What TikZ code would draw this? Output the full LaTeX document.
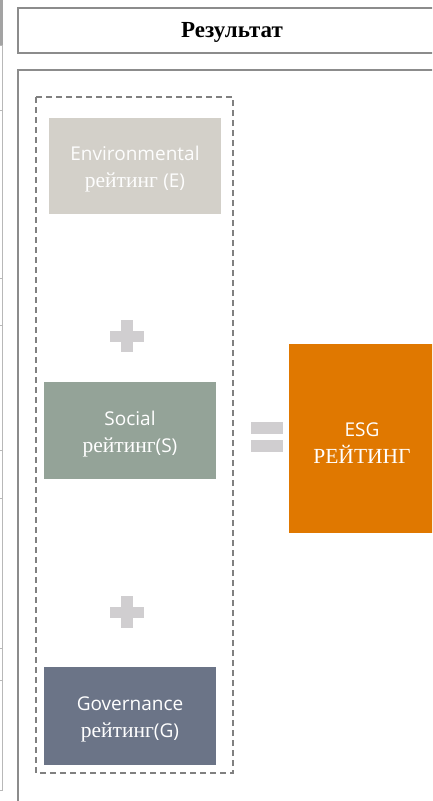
\documentclass[tikz,border=0pt]{standalone}
\usepackage{fontspec}
\setmainfont{Liberation Serif}
\newfontfamily\latsans{Open Sans}
\definecolor{frame}{HTML}{8C8C8C}
\definecolor{dashc}{HTML}{808080}
\definecolor{envc}{HTML}{D3D0C9}
\definecolor{socc}{HTML}{94A398}
\definecolor{govc}{HTML}{6B7487}
\definecolor{esgc}{HTML}{E07800}
\definecolor{signc}{HTML}{D0CED0}
\definecolor{leftc}{HTML}{B8B8B8}
\newcommand{\sanspart}[1]{{\latsans\fontsize{19}{26}\selectfont #1}}
\tikzset{
  ratebox/.style={draw=none, minimum width=172pt, minimum height=97pt, align=center, text=white, inner sep=0pt, font=\fontsize{21.5}{27}\selectfont},
  framebox/.style={draw=frame, line width=1.8pt},
}
\begin{document}
\begin{tikzpicture}[x=1pt,y=-1pt]
\useasboundingbox (0,0) rectangle (432,801);
\clip (0,0) rectangle (432,801);
\fill[white] (0,0) rectangle (432,801);
% left fragments
\fill[frame!80] (0,0) rectangle (3,45);
\draw[leftc, line width=1.2pt] (2.5,45) -- (2.5,790);
\foreach \yy in {45,110,278,325,450,498,648,680,790}
  \draw[leftc, line width=1pt] (0,\yy) -- (3,\yy);
% header
\draw[framebox] (18,8) rectangle (445,53);
\node[font=\bfseries\fontsize{23}{26}\selectfont] (hdr) at (232,32) {Результат};
% main frame
\draw[framebox] (18,70) rectangle (445,812);
% dashed group
\draw[dashc, line width=1.2pt, dash pattern=on 6pt off 4pt] (36,97) rectangle (233,773);
\node[ratebox, fill=envc, minimum width=172pt, minimum height=96pt] (env) at (135,166) {};
\node[align=center, text=white!96!envc, font=\fontsize{21.5}{27}\selectfont] (envt) at (135,169) {\sanspart{Environmental}\\рейтинг \sanspart{(E)}};
\node[ratebox, fill=socc] (soc) at (130,430.5) {};
\node[align=center, text=white, font=\fontsize{21.5}{27}\selectfont] (soct) at (130,434) {\sanspart{Social}\\рейтинг\sanspart{(S)}};
\node[ratebox, fill=govc, minimum height=98pt] (gov) at (130,716) {};
\node[align=center, text=white, font=\fontsize{21.5}{27}\selectfont] (govt) at (130,719) {\sanspart{Governance}\\рейтинг\sanspart{(G)}};
% plus signs
\foreach \cx/\cy in {127/336, 127/612}{
  \fill[signc] (\cx-17,\cy-5.5) rectangle (\cx+17,\cy+5.5);
  \fill[signc] (\cx-6,\cy-16) rectangle (\cx+6,\cy+16);
}
% equals
\fill[signc] (251,422) rectangle (283,434);
\fill[signc] (251,440) rectangle (283,452);
% ESG
\node[draw=none, fill=esgc, minimum width=160pt, minimum height=189pt, anchor=north west, inner sep=0pt] (esg) at (289,344) {};
\node[text=white, align=center, font=\fontsize{21.5}{27}\selectfont] (esgt) at (362,443) {\sanspart{ESG}\\РЕЙТИНГ};
\end{tikzpicture}
\end{document}
